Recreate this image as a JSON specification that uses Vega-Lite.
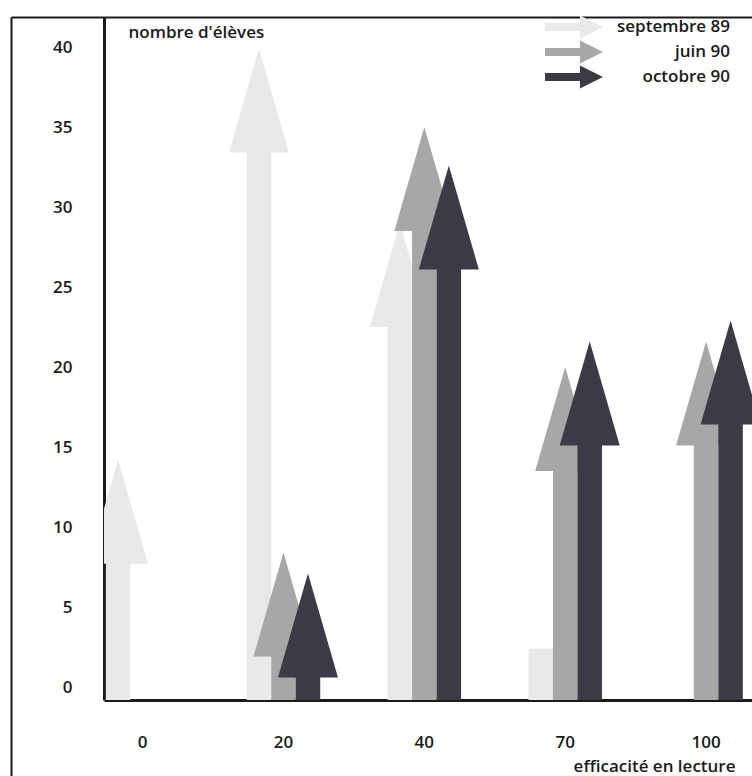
{
  "$schema": "https://vega.github.io/schema/vega-lite/v6.json",
  "width": 648,
  "height": 683,
  "autosize": {"type": "none"},
  "padding": {"left": 104, "top": 17, "right": 0, "bottom": 76},
  "background": "white",
  "config": {
    "view": {"stroke": null},
    "font": "Open Sans",
    "axis": {"grid": false}
  },
  "data": {
    "values": [
      {"cat": "0", "serie": "septembre 89", "n": 14.2},
      {"cat": "20", "serie": "septembre 89", "n": 39.9},
      {"cat": "40", "serie": "septembre 89", "n": 29},
      {"cat": "70", "serie": "septembre 89", "n": 2.4},
      {"cat": "20", "serie": "juin 90", "n": 8.4},
      {"cat": "40", "serie": "juin 90", "n": 35},
      {"cat": "70", "serie": "juin 90", "n": 20},
      {"cat": "100", "serie": "juin 90", "n": 21.6},
      {"cat": "20", "serie": "octobre 90", "n": 7.1},
      {"cat": "40", "serie": "octobre 90", "n": 32.6},
      {"cat": "70", "serie": "octobre 90", "n": 21.6},
      {"cat": "100", "serie": "octobre 90", "n": 22.9}
    ]
  },
  "layer": [
    {
      "mark": {"type": "point", "filled": true, "opacity": 1, "strokeWidth": 0, "size": 10816, "clip": true},
      "encoding": {
        "x": {
          "field": "cat", "type": "ordinal",
          "sort": ["0", "20", "40", "70", "100"],
          "scale": {"type": "band", "paddingInner": 0.5, "paddingOuter": 0.05, "align": 0.24},
          "axis": {
            "orient": "bottom",
            "title": "efficacité en lecture",
            "titleFont": "Open Sans", "titleFontSize": 17, "titleFontWeight": 600, "titleColor": "#1a1a1a",
            "titleAlign": "right", "titleBaseline": "middle", "titleAnchor": null,
            "titleX": 631, "titleY": 66,
            "labelAngle": 0, "labelFontSize": 17, "labelFontWeight": 600, "labelColor": "#1a1a1a",
            "labelPadding": 34, "ticks": false,
            "domainColor": "#1a1a1a", "domainWidth": 3
          }
        },
        "y": {
          "field": "n", "type": "quantitative",
          "scale": {"domain": [-0.8125, 41.875], "nice": false, "zero": false},
          "axis": {
            "orient": "left",
            "values": [0, 5, 10, 15, 20, 25, 30, 35, 40, 41.875],
            "labelExpr": "datum.value > 41 ? '' : datum.label",
            "title": "nombre d'élèves",
            "titleFont": "Open Sans", "titleFontSize": 17, "titleFontWeight": 600, "titleColor": "#1a1a1a",
            "titleAngle": 0, "titleAlign": "left", "titleBaseline": "middle", "titleAnchor": null,
            "titleX": 24, "titleY": 15,
            "labelFontSize": 17, "labelFontWeight": 600, "labelColor": "#1a1a1a",
            "labelPadding": -61, "labelAlign": "right", "labelBaseline": "middle",
            "ticks": true, "tickSize": 93, "tickWidth": 2, "tickColor": "#1a1a1a",
            "tickOpacity": {"condition": {"test": "datum.value > 41", "value": 1}, "value": 0},
            "domainColor": "#1a1a1a", "domainWidth": 3
          }
        },
        "color": {
          "field": "serie", "type": "nominal",
          "scale": {"domain": ["septembre 89", "juin 90", "octobre 90"], "range": ["#e9e9e9", "#a7a7a7", "#3c3a44"]},
          "legend": {
            "orient": "none", "legendX": 441, "legendY": -1,
            "title": null, "padding": 0,
            "symbolType": "M-1,-0.36L2.18,-0.36L2.18,-1.05L4.27,0L2.18,1.05L2.18,0.36L-1,0.36Z",
            "symbolSize": 484, "symbolStrokeWidth": 0,
            "labelAlign": "right", "labelOffset": 163, "labelFontSize": 17, "labelFontWeight": 600, "labelColor": "#1a1a1a",
            "labelFont": "Open Sans", "labelLimit": 300, "rowPadding": 1,
            "encode": {"symbols": {"update": {"shape": {"value": "M-1,-0.36L2.18,-0.36L2.18,-1.05L4.27,0L2.18,1.05L2.18,0.36L-1,0.36Z"}, "size": {"value": 484}, "strokeWidth": {"value": 0}, "opacity": {"value": 1}}}}
          }
        },
        "shape": {
          "condition": [
            {"test": "datum.n < 5", "value": "M-0.7065,0L-0.2355,0L-0.2355,16L-0.7065,16Z"},
            {"test": "datum.serie === 'septembre 89'", "value": "M-0.471,0L0.106,2L-0.2355,2L-0.2355,16L-0.7065,16L-0.7065,2L-1.048,2Z"},
            {"test": "datum.serie === 'octobre 90'", "value": "M0.471,0L1.048,2L0.7065,2L0.7065,16L0.2355,16L0.2355,2L-0.106,2Z"}
          ],
          "value": "M0,0L0.577,2L0.2355,2L0.2355,16L-0.2355,16L-0.2355,2L-0.577,2Z"
        }
      }
    },
    {
      "mark": {"type": "point", "opacity": 0},
      "encoding": {
        "x": {
          "field": "cat", "type": "ordinal",
          "sort": ["0", "20", "40", "70", "100"],
          "axis": {
            "orient": "top", "title": null, "labels": false,
            "values": ["0"], "bandPosition": 0, "tickOffset": -96.4,
            "ticks": true, "tickSize": -759, "tickWidth": 2, "tickColor": "#1a1a1a",
            "domainColor": "#1a1a1a", "domainWidth": 2
          }
        }
      }
    }
  ],
  "resolve": {"axis": {"x": "independent"}}
}
